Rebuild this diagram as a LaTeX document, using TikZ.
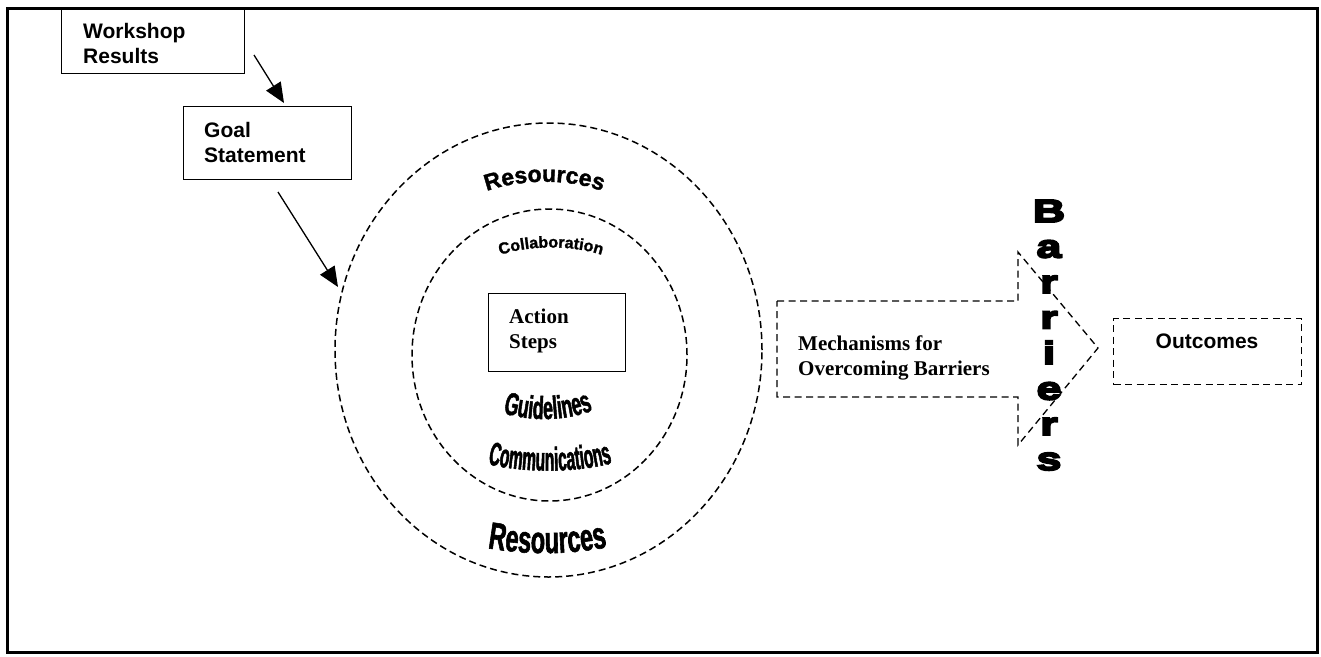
\documentclass[tikz,border=0pt]{standalone}
\usepackage{fontspec}
\usetikzlibrary{arrows.meta,decorations.text,shapes.geometric}
\newfontfamily\arialfont{Liberation Sans}
\newfontfamily\timesfont{Liberation Serif}
\newfontfamily\waPlain{Liberation Sans}[FakeBold=1.5]
\newfontfamily\waGuide{Liberation Sans}[FakeStretch=0.56,FakeBold=1.5]
\newfontfamily\waComm{Liberation Sans}[FakeStretch=0.47,FakeBold=1.5]
\newfontfamily\waRes{Liberation Sans}[FakeStretch=0.62,FakeBold=1.5]
\newfontfamily\heavyfont{Liberation Sans}[FakeBold=6,FakeStretch=1.4]
\begin{document}
\begin{tikzpicture}[x=1pt,y=-1pt,
  frame/.style={draw,line width=2.2pt},
  box/.style={draw,line width=1.3pt,inner sep=0pt,anchor=north west},
  dbox/.style={box,dash pattern=on 7pt off 4.5pt},
  ring/.style={draw,ellipse,line width=1.5pt,dash pattern=on 7pt off 4pt,inner sep=0pt},
  flow/.style={line width=1.3pt,-{Triangle[length=20pt,width=17pt]}},
  sanslbl/.style={font=\arialfont\bfseries\fontsize{21}{25}\selectfont,align=left,inner sep=0pt,anchor=north west},
  seriflbl/.style={font=\timesfont\bfseries\fontsize{21}{25}\selectfont,align=left,inner sep=0pt,anchor=north west},
  heavy/.style={font=\heavyfont\bfseries\fontsize{32}{32}\selectfont,inner sep=0pt,anchor=base},
  wordart/.style={decorate,decoration={text along path,text align=center,text={#1}}}
]
\useasboundingbox (0,0) rectangle (1321,656);
% outer frame
\draw[frame] (7.5,8.5) rectangle (1317.5,652.5);

% input boxes
\node[box,minimum width=183pt,minimum height=65pt] (wr) at (61,8) {};
\node[sanslbl] (wrtxt) at (83,22.7) {Workshop\\Results};
\node[box,minimum width=168pt,minimum height=73pt] (goal) at (183,106) {};
\node[sanslbl] (goaltxt) at (204,121.7) {Goal\\Statement};

\coordinate (f1s) at (254,55);
\coordinate (f1e) at (284,103);
\coordinate (f2s) at (278,192);
\coordinate (f2e) at (338,287);
\draw[flow] (f1s) -- (f1e);
\draw[flow] (f2s) -- (f2e);

% nested rings
\node[ring,minimum width=427pt,minimum height=454pt] (outer) at (548.5,350) {};
\node[ring,minimum width=275pt,minimum height=292pt] (inner) at (549.5,355) {};

% core box
\node[box,minimum width=137pt,minimum height=78pt] (act) at (488,293) {};
\node[seriflbl] (acttxt) at (509,308.7) {Action\\Steps};

% ring labels
\path[wordart={|\waPlain\bfseries\fontsize{23}{23}\selectfont|Resources}]
  (482,193) .. controls (518,178) and (572,178) .. (607,193);
\path[wordart={|\waPlain\bfseries\fontsize{16}{16}\selectfont|Collaboration}]
  (500,255) .. controls (530,245) and (572,245) .. (602,255);
\path[wordart={|\waGuide\bfseries\fontsize{32}{32}\selectfont|Guidelines}]
  (502,413) .. controls (532,421.5) and (564,421.5) .. (594,410);
\path[wordart={|\waComm\bfseries\fontsize{33}{33}\selectfont|Communications}]
  (487,464) .. controls (525,473) and (575,473) .. (613,463);
\path[wordart={|\waRes\bfseries\fontsize{38}{38}\selectfont|Resources}]
  (487,548) .. controls (527,555) and (568,555) .. (608,547);

% block arrow
\draw[line width=1.3pt,dash pattern=on 7pt off 4.5pt]
  (777,301) -- (1018,301) -- (1018,252) -- (1098,348) -- (1018,445) -- (1018,397) -- (777,397) -- cycle;
\node[seriflbl] (mech) at (798,335.5) {Mechanisms for\\Overcoming Barriers};

% vertical lettering
\node[heavy] (b1) at (1049,222) {B};
\node[heavy] (b2) at (1049,257.5) {a};
\node[heavy] (b3) at (1049,293) {r};
\node[heavy] (b4) at (1049,328.5) {r};
\node[heavy] (b5) at (1049,364) {i};
\node[heavy] (b6) at (1049,399.5) {e};
\node[heavy] (b7) at (1049,435) {r};
\node[heavy] (b8) at (1049,470) {s};

% result box
\node[dbox,minimum width=188pt,minimum height=66pt] (out) at (1113,318) {};
\node[font=\arialfont\bfseries\fontsize{21}{25}\selectfont,inner sep=0pt,anchor=base] (outtxt) at (1207,348) {Outcomes};
\end{tikzpicture}
\end{document}
